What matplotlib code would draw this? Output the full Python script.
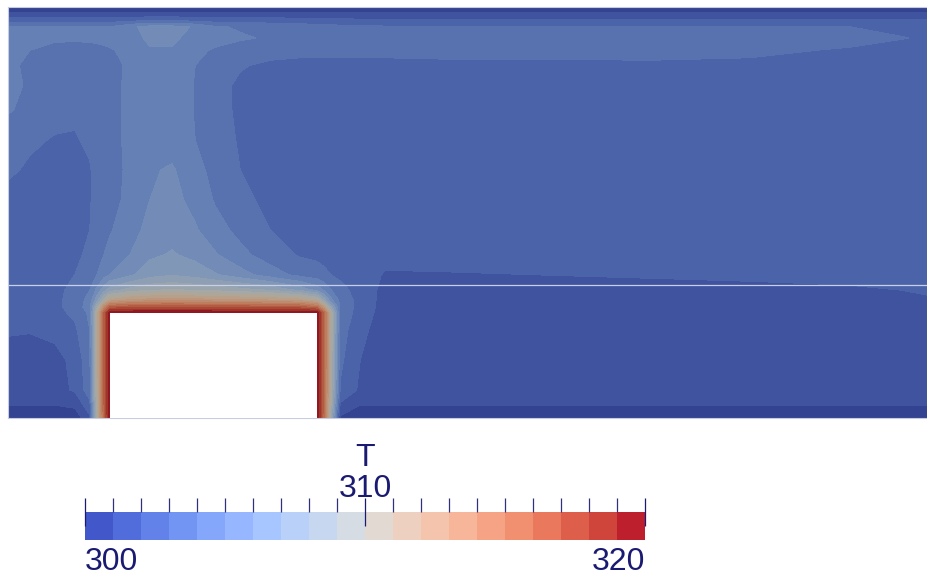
import numpy as np
import matplotlib
matplotlib.use("Agg")
import matplotlib.pyplot as plt
import matplotlib.transforms as mtransforms
from matplotlib.colors import ListedColormap, BoundaryNorm
from matplotlib.cm import ScalarMappable
from matplotlib.patches import Rectangle

# grid nodes (m) -- dense near the heated block walls
x_nodes = [0.00, 0.22, 0.47, 0.67, 0.82, 0.89, 0.96, 1.02, 1.22, 1.42, 1.64, 1.87, 2.07, 2.32,
           2.62, 2.92, 3.09, 3.16, 3.23, 3.32, 3.52, 3.77, 4.42, 5.42, 6.42, 7.42, 8.42, 9.20]
# rows listed from the top wall down to the floor
y_nodes = [4.11, 4.05, 3.98, 3.91, 3.80, 3.68, 3.53, 3.33, 3.08, 2.78, 2.48, 2.18, 1.88, 1.63,
           1.43, 1.28, 1.18, 1.11, 1.05, 0.88, 0.58, 0.28, 0.13, 0.00]

# temperature T (K) at the nodes, one row per y_nodes entry
T_rows = [
    [300.2, 300.2, 300.2, 300.2, 300.2, 300.2, 300.2, 300.2, 300.2, 300.2, 300.2, 300.2, 300.2, 300.2,
     300.2, 300.2, 300.2, 300.2, 300.2, 300.2, 300.2, 300.2, 300.2, 300.2, 300.2, 300.2, 300.2, 300.2],
    [301.0, 301.0, 301.0, 301.0, 301.0, 301.0, 301.0, 301.0, 301.0, 301.0, 301.0, 301.0, 301.0, 301.0,
     301.0, 301.0, 301.0, 301.0, 301.0, 301.0, 301.0, 301.0, 301.0, 301.0, 301.0, 301.0, 301.0, 301.0],
    [302.4, 302.4, 302.4, 302.4, 302.4, 302.4, 302.4, 302.4, 302.5, 302.7, 302.7, 302.5, 302.4, 302.4,
     302.35, 302.3, 302.25, 302.2, 302.2, 302.15, 302.1, 302.05, 302.0, 302.0, 302.0, 302.0, 302.0, 302.0],
    [304.0, 304.0, 304.0, 304.0, 304.0, 304.0, 304.0, 304.0, 304.8, 305.3, 305.3, 304.9, 304.1, 303.9,
     303.7, 303.5, 303.4, 303.35, 303.3, 303.25, 303.2, 303.1, 303.0, 303.0, 303.0, 303.0, 303.0, 303.0],
    [304.5, 304.4, 304.2, 304.2, 304.2, 304.25, 304.3, 304.35, 304.6, 305.2, 305.2, 304.6, 304.3, 304.1,
     303.9, 303.7, 303.6, 303.6, 303.6, 303.6, 303.6, 303.6, 303.6, 303.6, 303.6, 303.5, 303.3, 302.9],
    [304.3, 304.0, 303.6, 303.5, 303.6, 303.7, 303.8, 303.9, 304.3, 304.9, 304.9, 304.2, 303.9, 303.6,
     303.4, 303.3, 303.3, 303.3, 303.3, 303.3, 303.3, 303.3, 303.3, 303.3, 303.3, 303.2, 302.9, 302.6],
    [304.2, 303.8, 303.3, 303.2, 303.3, 303.4, 303.5, 303.6, 304.2, 304.6, 304.6, 304.0, 303.6, 303.1,
     302.8, 302.7, 302.7, 302.7, 302.7, 302.7, 302.7, 302.7, 302.8, 302.8, 302.85, 302.8, 302.7, 302.5],
    [304.2, 303.9, 303.2, 303.1, 303.2, 303.3, 303.5, 303.7, 304.2, 304.5, 304.5, 303.95, 303.4, 302.8,
     302.6, 302.5, 302.5, 302.5, 302.5, 302.5, 302.5, 302.5, 302.5, 302.5, 302.5, 302.5, 302.5, 302.45],
    [304.1, 303.7, 303.2, 303.1, 303.2, 303.3, 303.5, 303.7, 304.2, 304.5, 304.5, 303.95, 303.4, 302.8,
     302.6, 302.5, 302.5, 302.5, 302.5, 302.5, 302.5, 302.5, 302.5, 302.5, 302.5, 302.5, 302.5, 302.45],
    [303.3, 303.1, 302.95, 302.95, 303.1, 303.3, 303.5, 303.7, 304.2, 304.6, 304.6, 304.0, 303.45, 302.9,
     302.6, 302.5, 302.5, 302.5, 302.5, 302.5, 302.5, 302.5, 302.5, 302.5, 302.5, 302.5, 302.5, 302.45],
    [303.1, 302.9, 302.7, 302.7, 302.95, 303.2, 303.4, 303.6, 304.2, 304.9, 305.1, 304.4, 303.6, 303.0,
     302.7, 302.6, 302.55, 302.5, 302.5, 302.5, 302.5, 302.5, 302.5, 302.5, 302.5, 302.5, 302.5, 302.45],
    [302.8, 302.7, 302.6, 302.65, 302.95, 303.2, 303.4, 303.6, 304.3, 305.0, 305.3, 304.7, 303.9, 303.2,
     302.8, 302.6, 302.55, 302.5, 302.5, 302.5, 302.5, 302.45, 302.45, 302.45, 302.5, 302.5, 302.5, 302.5],
    [302.6, 302.5, 302.5, 302.7, 303.0, 303.3, 303.6, 303.9, 304.6, 305.3, 305.6, 305.1, 304.4, 303.7,
     303.0, 302.7, 302.6, 302.55, 302.5, 302.5, 302.45, 302.4, 302.4, 302.4, 302.45, 302.5, 302.5, 302.55],
    [302.6, 302.5, 302.6, 302.8, 303.2, 303.6, 304.0, 304.3, 305.0, 305.8, 306.1, 305.7, 305.1, 304.3,
     303.5, 302.9, 302.8, 302.7, 302.6, 302.6, 302.5, 302.3, 302.25, 302.3, 302.35, 302.4, 302.45, 302.5],
    [302.6, 302.55, 302.7, 303.0, 303.5, 304.0, 304.6, 305.0, 305.8, 306.6, 306.9, 306.6, 306.1, 305.4,
     304.5, 303.7, 303.4, 303.2, 303.0, 302.8, 302.5, 301.9, 301.95, 302.0, 302.05, 302.1, 302.2, 302.3],
    [302.6, 302.6, 302.8, 303.2, 304.0, 305.2, 306.5, 307.4, 308.3, 308.8, 309.0, 308.8, 308.6, 308.3,
     307.8, 306.6, 305.6, 304.8, 304.0, 303.3, 302.6, 301.7, 301.7, 301.75, 301.8, 301.85, 301.9, 302.05],
    [302.6, 302.6, 302.8, 303.3, 304.4, 306.5, 309.0, 311.0, 312.0, 312.3, 312.5, 312.3, 312.2, 312.0,
     311.8, 311.3, 310.0, 307.5, 305.2, 303.7, 302.6, 301.65, 301.6, 301.65, 301.7, 301.75, 301.85, 301.95],
    [302.6, 302.55, 302.8, 303.3, 304.6, 308.5, 313.0, 316.0, 316.5, 316.6, 316.7, 316.6, 316.5, 316.5,
     316.4, 316.2, 315.0, 311.5, 307.5, 303.8, 302.6, 301.6, 301.6, 301.6, 301.65, 301.7, 301.8, 301.9],
    [302.55, 302.5, 302.7, 303.2, 304.2, 310.0, 316.0, 320.0, 320.0, 320.0, 320.0, 320.0, 320.0, 320.0,
     320.0, 320.0, 320.0, 315.5, 309.5, 303.6, 302.6, 301.5, 301.55, 301.6, 301.6, 301.65, 301.75, 301.85],
    [302.1, 302.05, 302.2, 302.8, 304.0, 310.0, 316.0, 320.0, 320.0, 320.0, 320.0, 320.0, 320.0, 320.0,
     320.0, 320.0, 320.0, 315.5, 309.5, 303.5, 302.2, 301.6, 301.5, 301.55, 301.6, 301.6, 301.65, 301.75],
    [301.6, 301.6, 301.75, 302.2, 303.8, 310.0, 316.0, 320.0, 320.0, 320.0, 320.0, 320.0, 320.0, 320.0,
     320.0, 320.0, 320.0, 315.5, 309.5, 303.2, 302.0, 301.6, 301.5, 301.5, 301.5, 301.55, 301.6, 301.65],
    [301.5, 301.5, 301.7, 302.1, 303.6, 309.8, 316.0, 320.0, 320.0, 320.0, 320.0, 320.0, 320.0, 320.0,
     320.0, 320.0, 320.0, 315.5, 309.2, 302.9, 301.8, 301.5, 301.4, 301.4, 301.4, 301.4, 301.45, 301.5],
    [301.0, 301.0, 301.0, 301.2, 302.6, 309.5, 315.8, 320.0, 320.0, 320.0, 320.0, 320.0, 320.0, 320.0,
     320.0, 320.0, 320.0, 315.3, 308.8, 301.8, 301.0, 301.0, 301.0, 301.0, 301.0, 301.0, 301.0, 301.0],
    [300.2, 300.2, 300.2, 300.3, 301.8, 309.0, 315.5, 320.0, 320.0, 320.0, 320.0, 320.0, 320.0, 320.0,
     320.0, 320.0, 320.0, 315.0, 308.0, 300.8, 300.2, 300.2, 300.2, 300.2, 300.2, 300.2, 300.2, 300.2],
]

# heated block and probe line
block_x = (1.02, 3.09)
block_y = (0.00, 1.05)
probe_y = 1.33

T_min, T_max = 300, 320
n_bins = 20
levels = np.linspace(T_min, T_max, n_bins + 1)

# Cool to Warm, 20 discrete colours; the field is a little darker (lit surface)
centers = (levels[:-1] + 0.5 * (levels[1] - levels[0]) - T_min) / (T_max - T_min)
bar_colors = plt.cm.coolwarm(centers)
field_colors = bar_colors.copy()
field_colors[:, :3] *= np.array([0.77, 0.765, 0.72])

X, Y = np.meshgrid(x_nodes, y_nodes[::-1])
T = np.array(T_rows)[::-1]

fig = plt.figure(figsize=(9.28, 5.8), dpi=100)
ax = fig.add_axes([8 / 928, 162 / 580, 920 / 928, 411 / 580])
cs = ax.contourf(X, Y, T, levels=levels, colors=field_colors)
# close the hairline gaps between neighbouring bands
cs.set_edgecolor("face")
cs.set_linewidth(0.4)
ax.add_patch(Rectangle((block_x[0], block_y[0]), block_x[1] - block_x[0], block_y[1] - block_y[0],
                       facecolor="white", edgecolor="none", zorder=3))
ax.axhline(probe_y, color="#c9cfe8", lw=0.9, zorder=4)
ax.set_xlim(0, 9.2)
ax.set_ylim(0, 4.11)
ax.set_xticks([])
ax.set_yticks([])
for side in ["top", "left", "bottom"]:
    ax.spines[side].set_color("#c8cce0")
    ax.spines[side].set_linewidth(0.8)
ax.spines["right"].set_visible(False)

# colour legend
txt_color = "#1a1a72"
cax = fig.add_axes([85 / 928, 40 / 580, 560 / 928, 28 / 580])
sm = ScalarMappable(norm=BoundaryNorm(levels, n_bins), cmap=ListedColormap(bar_colors))
cb = fig.colorbar(sm, cax=cax, orientation="horizontal")
cb.outline.set_visible(False)
cax.xaxis.set_ticks_position("top")
cax.set_xticks([300, 310, 320])
cax.set_xticks(levels[1:-1][levels[1:-1] != 310], minor=True)
cax.tick_params(axis="x", which="major", direction="inout", length=20, width=0.9,
                color=txt_color, labeltop=False, labelbottom=False)
cax.tick_params(axis="x", which="minor", direction="out", length=10, width=0.9,
                color="#30307e")

font = dict(family="Liberation Sans", size=23, color=txt_color)
trans = mtransforms.blended_transform_factory(cax.transData, cax.transAxes)
cax.text(300, -0.25, "300", ha="left", va="top", transform=trans, **font)
cax.text(320, -0.25, "320", ha="right", va="top", transform=trans, **font)
cax.text(310, 1.55, "310", ha="center", va="baseline", transform=trans, **font)
cax.text(310, 2.65, "T", ha="center", va="baseline", transform=trans, **font)

fig.savefig("out.png", dpi=100)
